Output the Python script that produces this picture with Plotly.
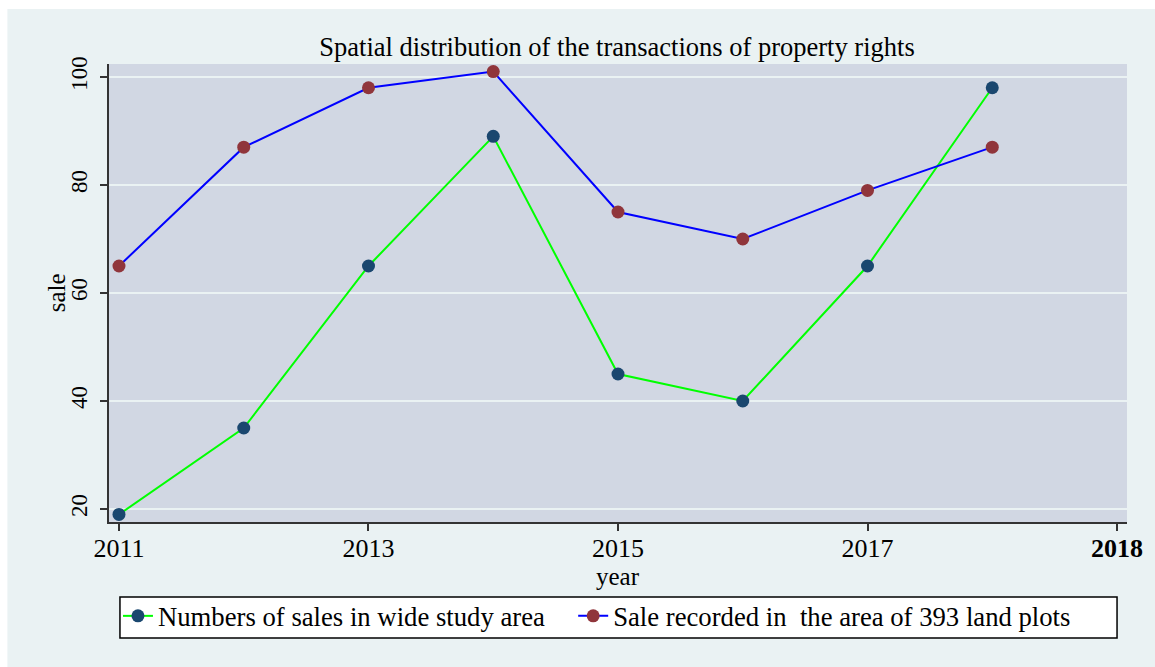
import plotly.graph_objects as go

years = [2011, 2012, 2013, 2014, 2015, 2016, 2017, 2018]
sales_wide = [19, 35, 65, 89, 45, 40, 65, 98]
sales_393 = [65, 87, 98, 101, 75, 70, 79, 87]
x_tickvals = [2011, 2013, 2015, 2017, 2019]
x_ticktext = ["2011", "2013", "2015", "2017", "<b>2018</b>"]
y_tickvals = [20, 40, 60, 80, 100]

FONT = "Liberation Serif, Times New Roman, serif"
BG = "#EAF2F3"
PLOT_BG = "#D1D7E3"

fig = go.Figure()
fig.add_trace(go.Scatter(
    x=years, y=sales_wide, mode="lines+markers",
    name="Numbers of sales in wide study area",
    line=dict(color="#00FF00", width=2),
    marker=dict(color="#1A476F", size=13),
    legend="legend",
))
fig.add_trace(go.Scatter(
    x=years, y=sales_393, mode="lines+markers",
    name="Sale recorded in  the area of 393 land plots",
    line=dict(color="#0000FF", width=2),
    marker=dict(color="#90353B", size=13),
    legend="legend2",
))

W, H = 1155, 667
L, R, T, B = 109, 24, 64, 145
pw, ph = W - L - R, H - T - B

def px(x):
    return (x - L) / pw

def py(y):
    return (H - B - y) / ph

fig.update_layout(
    width=W, height=H,
    margin=dict(l=L, r=R, t=T, b=B),
    paper_bgcolor=BG,
    plot_bgcolor=PLOT_BG,
    font=dict(family=FONT, color="#000000", size=20),
    title=dict(
        text="Spatial distribution of the transactions of property rights",
        xref="container", x=617 / W, xanchor="center",
        y=1 - 47 / H, yanchor="middle",
        font=dict(family=FONT, size=26.5, color="#000000"),
    ),
    xaxis=dict(
        range=[2010.92, 2019.08],
        tickvals=x_tickvals, ticktext=x_ticktext,
        ticks="outside", ticklen=7, tickcolor="#333333", tickwidth=1.5,
        showline=True, linecolor="#333333", linewidth=1.5,
        showgrid=False, zeroline=False,
        tickfont=dict(family=FONT, size=26),
        ticklabelstandoff=-5,
    ),
    yaxis=dict(
        range=[17.6, 102.4],
        tickvals=y_tickvals,
        tickangle=-90,
        ticks="outside", ticklen=7, tickcolor="#333333", tickwidth=1.5,
        showline=True, linecolor="#333333", linewidth=1.5,
        showgrid=True, gridcolor=BG, gridwidth=2,
        zeroline=False,
        tickfont=dict(family=FONT, size=23),
        ticklabelstandoff=4,
    ),
    annotations=[
        dict(text="year", xref="paper", yref="paper",
             x=px(620), y=py(576), xanchor="center", yanchor="middle",
             showarrow=False, font=dict(family=FONT, size=25)),
        dict(text="sale", xref="paper", yref="paper", textangle=-90,
             x=px(56), y=py(293), xanchor="center", yanchor="middle",
             showarrow=False, font=dict(family=FONT, size=25)),
    ],
    legend=dict(
        x=px(118), y=py(592), xanchor="left", yanchor="top",
        bgcolor="rgba(0,0,0,0)", borderwidth=0,
        font=dict(family=FONT, size=26.7),
    ),
    legend2=dict(
        x=px(575), y=py(592), xanchor="left", yanchor="top",
        bgcolor="rgba(0,0,0,0)", borderwidth=0,
        font=dict(family=FONT, size=26.7),
    ),
    showlegend=True,
    shapes=[
        dict(type="rect", xref="paper", yref="paper",
             x0=px(-5), x1=px(W + 5), y0=py(9), y1=py(-5),
             fillcolor="#FFFFFF", line=dict(width=0), layer="below"),
        dict(type="rect", xref="paper", yref="paper",
             x0=px(-5), x1=px(7), y0=py(H + 5), y1=py(-5),
             fillcolor="#FFFFFF", line=dict(width=0), layer="below"),
        dict(type="rect", xref="paper", yref="paper",
             x0=px(120), x1=px(1121), y0=py(638), y1=py(597),
             fillcolor="#FFFFFF", line=dict(color="#000000", width=1.5),
             layer="below"),
    ],
)

fig.write_html(
    "out.html",
    config={"displayModeBar": False},
    post_script="document.body.style.margin='0';document.body.style.overflow='hidden';",
)
